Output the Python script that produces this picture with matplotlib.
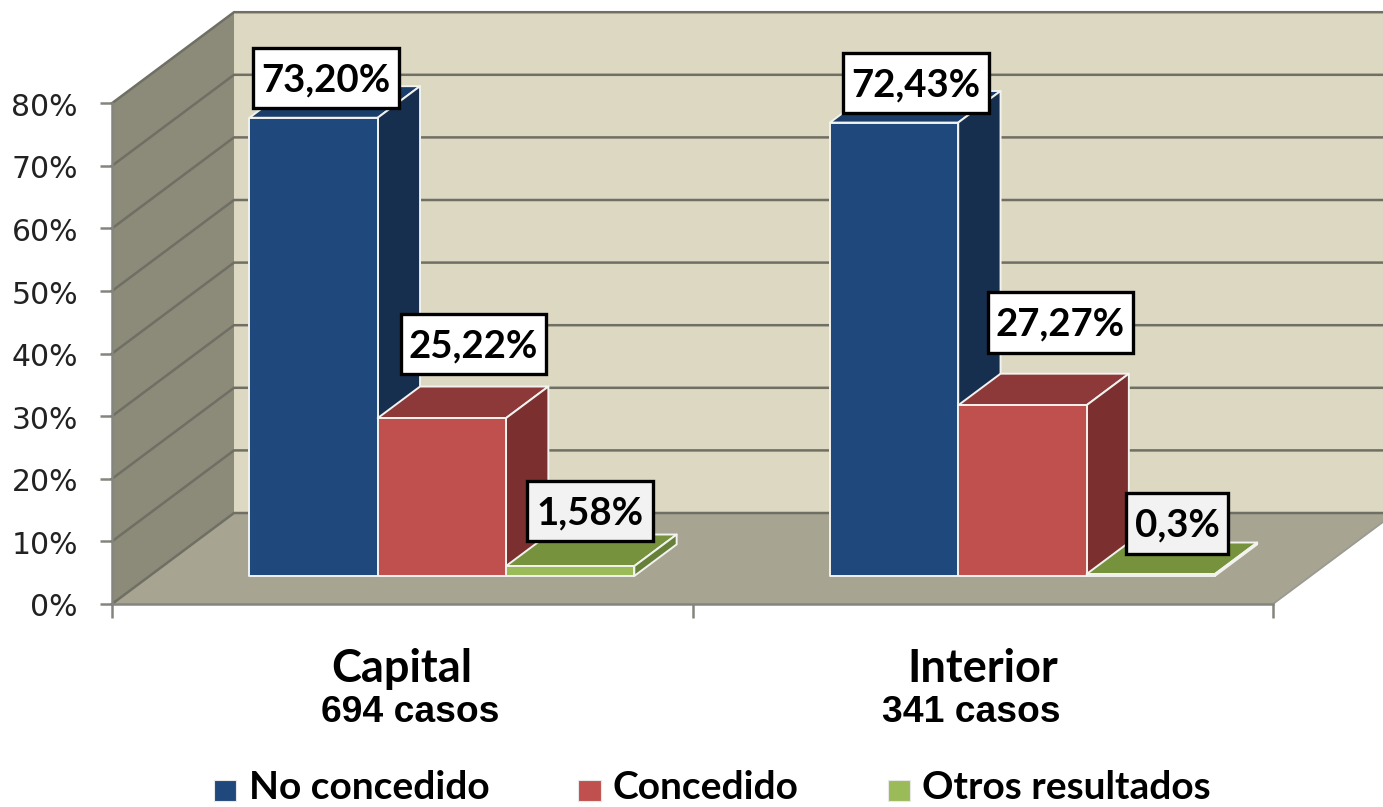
import matplotlib
matplotlib.use("Agg")
import matplotlib.pyplot as plt
from matplotlib.patches import Rectangle
from matplotlib.transforms import ScaledTranslation

categories = ["Capital", "Interior"]
case_labels = ["694 casos", "341 casos"]
series_names = ["No concedido", "Concedido", "Otros resultados"]
no_concedido = [73.20, 72.43]
concedido = [25.22, 27.27]
otros = [1.58, 0.3]
label_texts = [["73,20%", "25,22%", "1,58%"], ["72,43%", "27,27%", "0,3%"]]
y_ticks = [0, 10, 20, 30, 40, 50, 60, 70, 80]
y_tick_labels = ["0%", "10%", "20%", "30%", "40%", "50%", "60%", "70%", "80%"]

front_colors = ["#1F497D", "#C0504D", "#9BBB59"]
side_colors = ["#172F4F", "#7C2F2F", "#66803A"]
top_colors = ["#1B3D69", "#8E3939", "#76923C"]

W, H = 1383, 807
PX_X = 580.5  # pixels per category
PX_Y = 6.26  # pixels per percent
DEPTH_X = 122 / PX_X
DEPTH_Y = 91 / PX_Y
BAR_W = 128.3 / PX_X
BAR_START = 0.172
BAR_D0 = 0.308
BAR_D1 = 0.655

fig = plt.figure(figsize=(W / 100, H / 100), dpi=100)
ax = fig.add_axes([0, 0, 1, 1])
ax.patch.set_visible(False)
ax.set_xlim(-112 / PX_X, (W - 112) / PX_X)
ax.set_ylim(-(H - 604) / PX_Y, 604 / PX_Y)

# room: back wall, left wall, floor
top_v = 80
ax.fill([DEPTH_X, 3, 3, DEPTH_X], [DEPTH_Y, DEPTH_Y, top_v + DEPTH_Y, top_v + DEPTH_Y],
        fc="#DDD8C2", ec="none", zorder=1)
ax.fill([0, DEPTH_X, DEPTH_X, 0], [0, DEPTH_Y, top_v + DEPTH_Y, top_v],
        fc="#8C8A78", ec="none", zorder=1)
ax.fill([0, 2, 2 + DEPTH_X, DEPTH_X], [0, 0, DEPTH_Y, DEPTH_Y],
        fc="#A7A491", ec="none", zorder=1)
ax.plot([2, 2 + DEPTH_X], [0, DEPTH_Y], color="#9a9a90", lw=1.3, zorder=2)

for v in y_ticks:
    ax.plot([0, DEPTH_X, 3], [v, v + DEPTH_Y, v + DEPTH_Y], color="#706f64", lw=1.8,
            zorder=2, solid_joinstyle="miter")

ax.spines[["top", "right"]].set_visible(False)
ax.spines["left"].set_position(("data", 0))
ax.spines["left"].set_bounds(0, 80)
ax.spines["bottom"].set_position(("data", 0))
ax.spines["bottom"].set_bounds(0, 2)
for s in ["left", "bottom"]:
    ax.spines[s].set_color("#85857f")
    ax.spines[s].set_linewidth(1.8)
    ax.spines[s].set_zorder(3)
ax.set_yticks(y_ticks, y_tick_labels)
ax.set_xticks([0, 1, 2], ["", "", ""])
ax.tick_params(axis="y", length=8.5, width=1.8, color="#85857f", pad=16, labelsize=21.5,
               labelcolor="#222222")
ax.tick_params(axis="x", length=10, width=1.8, color="#85857f")
shift_down = ScaledTranslation(0, -1 / 100, fig.dpi_scale_trans)
for lab in ax.get_yticklabels():
    lab.set_transform(lab.get_transform() + shift_down)


def draw_bar(x, value, idx):
    x0, x1 = x, x + BAR_W
    dx0, dx1 = BAR_D0 * DEPTH_X, BAR_D1 * DEPTH_X
    dy0, dy1 = BAR_D0 * DEPTH_Y, BAR_D1 * DEPTH_Y
    edge = dict(ec="#f2f2ee", lw=1.4, joinstyle="round", zorder=4)
    # top
    ax.fill([x0 + dx0, x1 + dx0, x1 + dx1, x0 + dx1],
            [value + dy0, value + dy0, value + dy1, value + dy1], fc=top_colors[idx], **edge)
    # side
    ax.fill([x1 + dx0, x1 + dx1, x1 + dx1, x1 + dx0],
            [dy0, dy1, value + dy1, value + dy0], fc=side_colors[idx], **edge)
    # front
    ax.fill([x0 + dx0, x1 + dx0, x1 + dx0, x0 + dx0],
            [dy0, dy0, value + dy0, value + dy0], fc=front_colors[idx], **edge)


series = [no_concedido, concedido, otros]
for c in range(len(categories)):
    for i, vals in enumerate(series):
        draw_bar(c + BAR_START + i * BAR_W, vals[c], i)

# overlay in picture pixels for labels and legend
ov = fig.add_axes([0, 0, 1, 1])
ov.set_xlim(0, W)
ov.set_ylim(H, 0)
ov.axis("off")
ov.patch.set_visible(False)

# label boxes: x0, y0, x1, y1
boxes = [[(253, 48, 399, 108), (401, 314, 546, 374), (527, 481, 653, 541)],
         [(843, 53, 989, 113), (988, 292, 1133, 353), (1126, 493, 1228, 554)]]
box_fill = ["white", "white", "#F2F2F2"]

bold_font = ["Lato", "DejaVu Sans"]
for c in range(2):
    for i in range(3):
        x0, y0, x1, y1 = boxes[c][i]
        ov.add_patch(Rectangle((x0, y0), x1 - x0, y1 - y0, fc=box_fill[i], ec="black", lw=2.4,
                               zorder=5))
        ov.text((x0 + x1) / 2, (y0 + y1) / 2 + 2, label_texts[c][i], ha="center", va="center",
                family=bold_font, weight="bold", fontsize=27.6, color="black", zorder=6)

ov.text(401.5, 669, categories[0], ha="center", va="center", family=bold_font, weight="bold",
        fontsize=32.5, color="black")
ov.text(982.5, 669, categories[1], ha="center", va="center", family=bold_font, weight="bold",
        fontsize=32.5, color="black")
ov.text(410.5, 713, case_labels[0], ha="center", va="center", family="Liberation Sans",
        weight="bold", fontsize=26.8, color="black")
ov.text(971.5, 713, case_labels[1], ha="center", va="center", family="Liberation Sans",
        weight="bold", fontsize=26.8, color="black")

legend_sq = [(214, 236), (578, 601), (888, 910)]
legend_tx = [249, 613, 922]
for i, name in enumerate(series_names):
    a, b = legend_sq[i]
    ov.add_patch(Rectangle((a, 780), b - a, 21, fc=front_colors[i], ec="#e8e8e8", lw=0.8))
    ov.text(legend_tx[i], 799, name, ha="left", va="baseline", family=bold_font, weight="bold",
            fontsize=28, color="black")

fig.savefig("out.png", dpi=100)
plt.close(fig)
